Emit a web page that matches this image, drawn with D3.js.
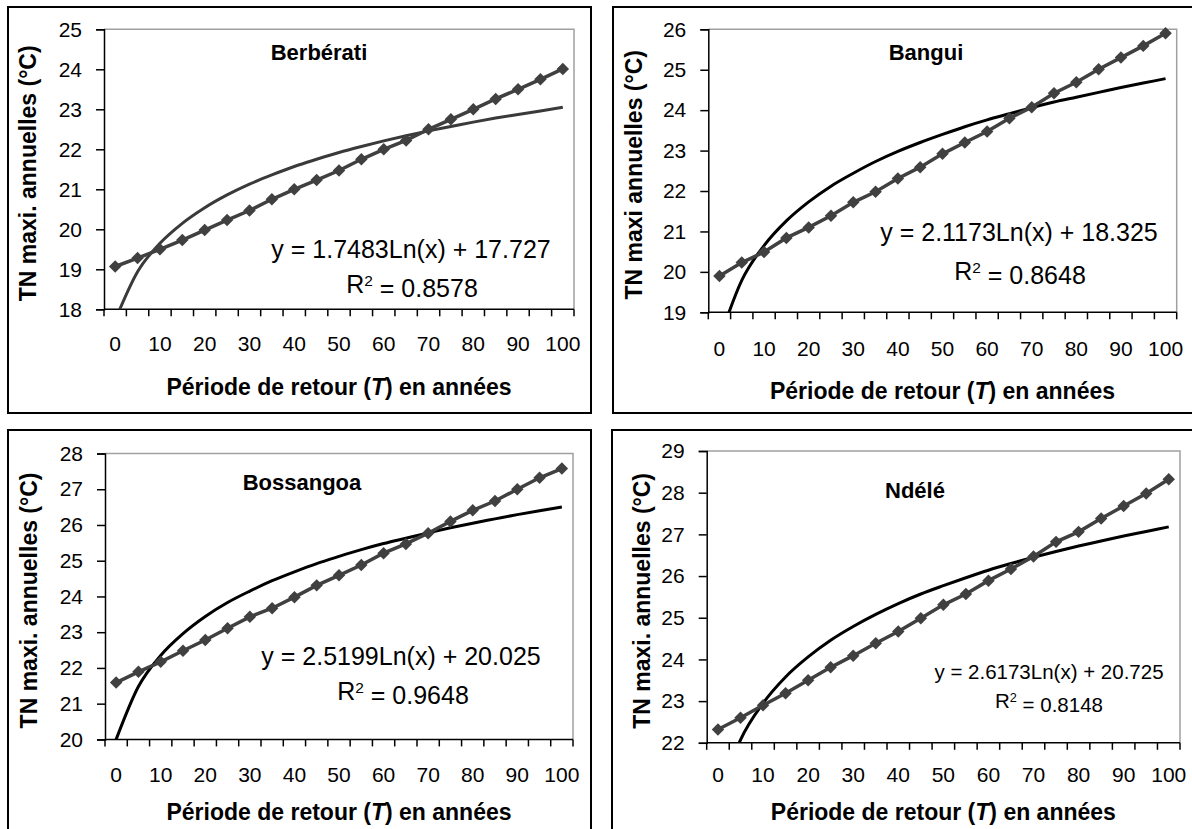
<!DOCTYPE html>
<html>
<head>
<meta charset="utf-8">
<script src="https://cdn.jsdelivr.net/npm/d3@7"></script>
<style>
  html, body { margin: 0; padding: 0; background: #fff; }
  svg { display: block; font-family: Arial, "Liberation Sans", sans-serif; }
</style>
</head>
<body>
<div id="chart"></div>
<script>
// return periods (categories on the x axis), labelled every other one
const periods = [0, 5, 10, 15, 20, 25, 30, 35, 40, 45, 50, 55, 60, 65, 70, 75, 80, 85, 90, 95, 100];
const periodLabels = [0, 10, 20, 30, 40, 50, 60, 70, 80, 90, 100];

const stations = ['Berbérati', 'Bangui', 'Bossangoa', 'Ndélé'];
const yTitles = ['TN maxi. annuelles (°C)', 'TN maxi annuelles (°C)', 'TN maxi. annuelles (°C)', 'TN maxi. annuelles (°C)'];
const yDomains = [[18, 25], [19, 26], [20, 28], [22, 29]];
const equations = [
  'y = 1.7483Ln(x) + 17.727',
  'y = 2.1173Ln(x) + 18.325',
  'y = 2.5199Ln(x) + 20.025',
  'y = 2.6173Ln(x) + 20.725',
];
const r2Values = ['0.8578', '0.8648', '0.9648', '0.8148'];

// TN maxi per return period (diamond series)
const berberatiObs = [19.07, 19.28, 19.5, 19.73, 19.98, 20.23, 20.47, 20.75, 21.0, 21.23, 21.47, 21.75, 22.0, 22.22, 22.5, 22.75, 23.0, 23.26, 23.5, 23.75, 24.01];
const banguiObs = [19.9, 20.23, 20.49, 20.84, 21.1, 21.39, 21.72, 21.98, 22.31, 22.59, 22.92, 23.2, 23.47, 23.8, 24.07, 24.42, 24.69, 25.01, 25.3, 25.59, 25.9];
const bossangoaObs = [21.59, 21.89, 22.17, 22.48, 22.78, 23.11, 23.43, 23.67, 23.98, 24.31, 24.59, 24.88, 25.21, 25.47, 25.77, 26.1, 26.41, 26.67, 27.0, 27.32, 27.58];
const ndeleObs = [22.32, 22.6, 22.9, 23.19, 23.5, 23.81, 24.09, 24.39, 24.67, 24.99, 25.31, 25.57, 25.89, 26.17, 26.47, 26.82, 27.06, 27.38, 27.68, 27.98, 28.32];

// trend curves
const berberatiTrend = [17.73, 18.94, 19.65, 20.15, 20.54, 20.86, 21.13, 21.36, 21.57, 21.75, 21.92, 22.07, 22.21, 22.34, 22.46, 22.57, 22.68, 22.78, 22.87, 22.96, 23.05];
const banguiTrend = [18.33, 19.79, 20.65, 21.26, 21.73, 22.12, 22.44, 22.73, 22.98, 23.2, 23.4, 23.59, 23.76, 23.91, 24.06, 24.2, 24.32, 24.44, 24.56, 24.67, 24.78];
const bossangoaTrend = [20.0, 21.48, 22.35, 22.96, 23.44, 23.83, 24.15, 24.44, 24.69, 24.92, 25.12, 25.31, 25.48, 25.63, 25.78, 25.92, 26.05, 26.17, 26.29, 26.4, 26.5];
const ndeleTrend = [20.57, 22.07, 22.95, 23.58, 24.06, 24.46, 24.79, 25.08, 25.34, 25.57, 25.77, 25.96, 26.14, 26.3, 26.45, 26.59, 26.72, 26.84, 26.96, 27.07, 27.18];

const obsSeries = [berberatiObs, banguiObs, bossangoaObs, ndeleObs];
const trendSeries = [berberatiTrend, banguiTrend, bossangoaTrend, ndeleTrend];

// panel layout (frame + plot area)
const panels = [
  { frame: [8, 7, 583, 406], plot: { l: 104, r: 574, t: 29.3, b: 309.3 }, xLabelY: 343, xTitleY: 387, yTitleX: 28,
    title: [319, 52], eq: [411, 249], r2: [412, 284], eqSize: 25, trendColor: '#3a3a3a' },
  { frame: [613, 7, 600, 406], plot: { l: 708.3, r: 1176.7, t: 29.3, b: 312.3 }, xLabelY: 348, xTitleY: 391, yTitleX: 634,
    title: [926, 52], eq: [1019, 232], r2: [1020, 271], eqSize: 25, trendColor: '#000' },
  { frame: [8, 430, 583, 420], plot: { l: 105, r: 573, t: 453.5, b: 739.4 }, xLabelY: 774, xTitleY: 812, yTitleX: 29,
    title: [302, 482], eq: [401, 656], r2: [403, 691], eqSize: 25, trendColor: '#000' },
  { frame: [612, 430, 600, 420], plot: { l: 706.7, r: 1180, t: 451, b: 742.8 }, xLabelY: 774, xTitleY: 812, yTitleX: 642,
    title: [915, 490], eq: [1049, 672], r2: [1049, 701], eqSize: 20.5, trendColor: '#000' },
];

const tickSize = 21;
const titleSize = 23;
const width = 1192;
const height = 829;
const svg = d3.select('#chart').append('svg').attr('width', width).attr('height', height);
svg.append('rect').attr('width', width).attr('height', height).attr('fill', '#fff');

panels.forEach((p, i) => {
  const g = svg.append('g');
  const { l, r, t, b } = p.plot;

  g.append('rect').attr('x', p.frame[0]).attr('y', p.frame[1]).attr('width', p.frame[2]).attr('height', p.frame[3])
    .attr('fill', '#fff').attr('stroke', '#000').attr('stroke-width', 2);

  const x = d3.scaleBand().domain(periods).range([l, r]).padding(0);
  const y = d3.scaleLinear().domain(yDomains[i]).range([b, t]);

  // plot area border (grey top / right)
  g.append('path').attr('d', `M${l},${t}H${r}V${b}`).attr('fill', 'none').attr('stroke', '#a0a0a0').attr('stroke-width', 1.5);

  // y axis
  const [y0, y1] = yDomains[i];
  const yAxis = g.append('g').attr('transform', `translate(${l},0)`)
    .call(d3.axisLeft(y).tickValues(d3.range(y0, y1 + 1)).tickSize(8).tickPadding(14).tickFormat(d3.format('d')));
  yAxis.select('.domain').attr('stroke', '#000').attr('stroke-width', 1.5);
  yAxis.selectAll('.tick line').attr('stroke', '#000').attr('stroke-width', 1.5);
  yAxis.selectAll('.tick text').attr('font-size', tickSize).attr('fill', '#000')
    .attr('font-family', 'Arial, "Liberation Sans", sans-serif');

  // x axis: ticks at band edges, labels every other category
  const edges = periods.map((c) => x(c)).concat([x.range()[1]]);
  g.append('line').attr('x1', l).attr('x2', r).attr('y1', b).attr('y2', b).attr('stroke', '#000').attr('stroke-width', 1.5);
  g.selectAll('.xtick').data(edges).join('line').attr('class', 'xtick')
    .attr('x1', (d) => d).attr('x2', (d) => d).attr('y1', b).attr('y2', b + 7)
    .attr('stroke', '#000').attr('stroke-width', 1.5);
  const xAxis = g.append('g').attr('transform', `translate(0,${b})`)
    .call(d3.axisBottom(x).tickValues(periodLabels).tickSize(0).tickPadding(p.xLabelY - b - 0.352 * tickSize));
  xAxis.select('.domain').remove();
  xAxis.selectAll('.tick text').attr('font-size', tickSize).attr('fill', '#000')
    .attr('font-family', 'Arial, "Liberation Sans", sans-serif');

  // axis titles
  const xt = g.append('text').attr('x', (l + r) / 2).attr('y', p.xTitleY).attr('dy', '0.35em')
    .attr('text-anchor', 'middle').attr('font-size', titleSize).attr('font-weight', 'bold');
  xt.append('tspan').text('Période de retour (');
  xt.append('tspan').attr('font-style', 'italic').text('T');
  xt.append('tspan').text(') en années');

  g.append('text').attr('transform', `translate(${p.yTitleX},${(t + b) / 2 + 4}) rotate(-90)`).attr('dy', '0.35em')
    .attr('text-anchor', 'middle').attr('font-size', titleSize).attr('font-weight', 'bold')
    .text(yTitles[i]);

  // clipped series
  const clipId = `clip${i}`;
  g.append('clipPath').attr('id', clipId).append('rect').attr('x', l).attr('y', t).attr('width', r - l).attr('height', b - t);
  const series = g.append('g').attr('clip-path', `url(#${clipId})`);
  const cx = (d, k) => x(periods[k]) + x.bandwidth() / 2;

  series.append('path').datum(trendSeries[i])
    .attr('d', d3.line().x(cx).y((d) => y(d)).curve(d3.curveMonotoneX))
    .attr('fill', 'none').attr('stroke', p.trendColor).attr('stroke-width', 3);

  series.append('path').datum(obsSeries[i])
    .attr('d', d3.line().x(cx).y((d) => y(d)))
    .attr('fill', 'none').attr('stroke', '#404040').attr('stroke-width', 3.5);

  const diamond = d3.symbol(d3.symbolSquare, 78);
  g.selectAll('.mark').data(obsSeries[i]).join('path').attr('class', 'mark')
    .attr('d', diamond)
    .attr('transform', (d, k) => `translate(${cx(d, k)},${y(d)}) rotate(45)`)
    .attr('fill', '#404040');

  // station name and trend equation
  g.append('text').attr('x', p.title[0]).attr('y', p.title[1]).attr('dy', '0.35em').attr('text-anchor', 'middle')
    .attr('font-size', 22).attr('font-weight', 'bold').text(stations[i]);

  g.append('text').attr('x', p.eq[0]).attr('y', p.eq[1]).attr('dy', '0.35em').attr('text-anchor', 'middle')
    .attr('font-size', p.eqSize).text(equations[i]);
  const r2 = g.append('text').attr('x', p.r2[0]).attr('y', p.r2[1]).attr('dy', '0.35em').attr('text-anchor', 'middle')
    .attr('font-size', p.eqSize);
  r2.append('tspan').text('R');
  r2.append('tspan').attr('dy', '-0.45em').attr('font-size', p.eqSize * 0.62).text('2');
  r2.append('tspan').attr('dy', '0.45em').text(` = ${r2Values[i]}`);
});
</script>
</body>
</html>
